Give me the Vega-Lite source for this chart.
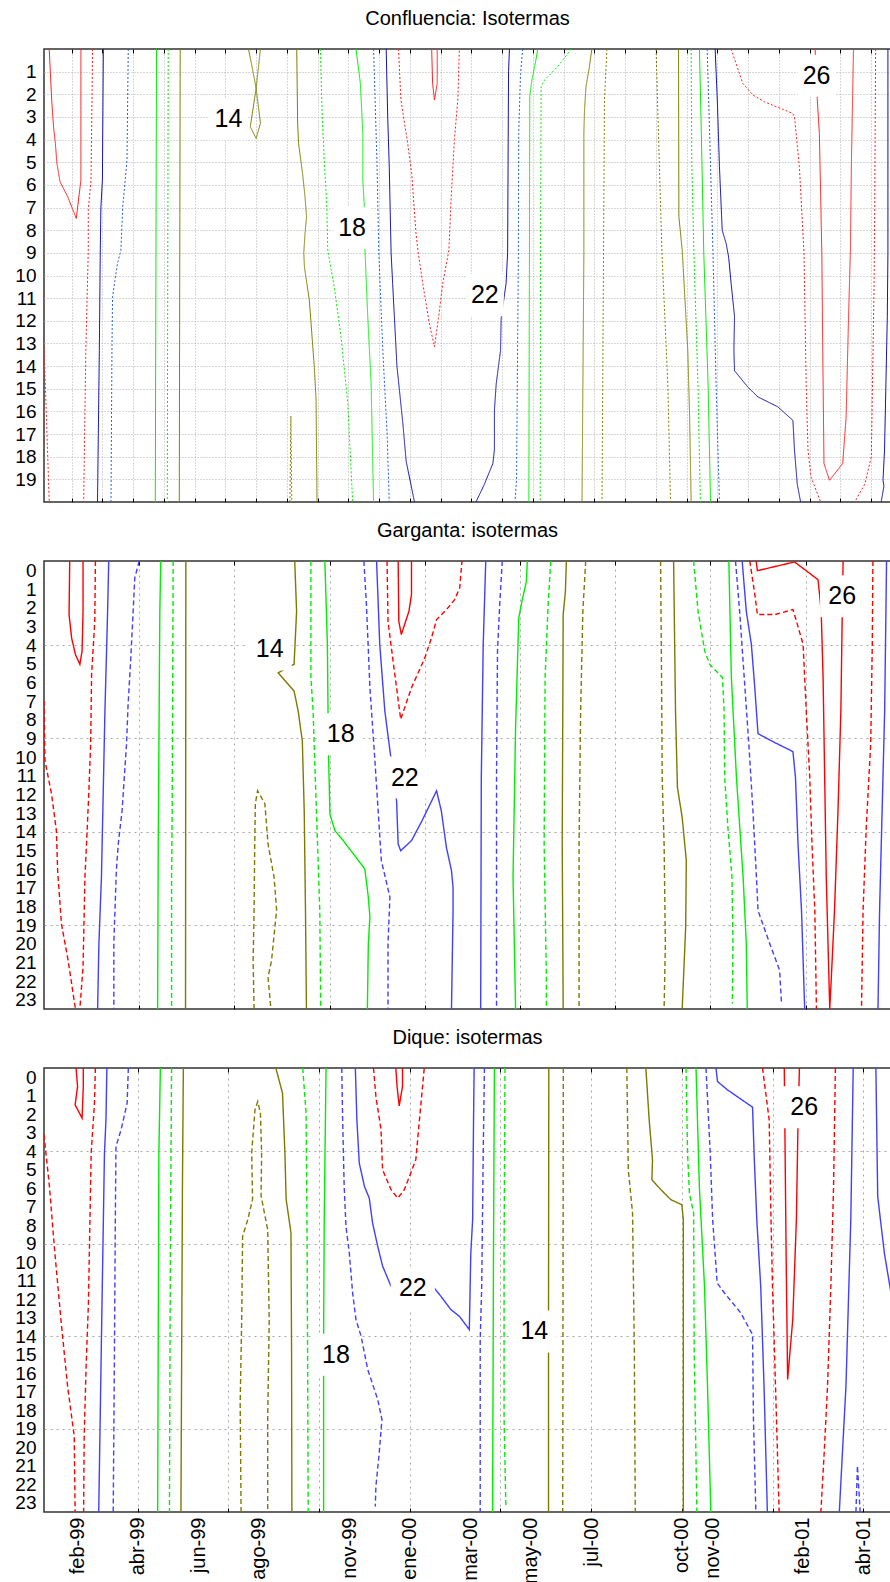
{
"$schema":"https://vega.github.io/schema/vega-lite/v6.json",
"background":"white",
"padding":{"left":13,"top":7,"right":0,"bottom":0},
"spacing":15,
"config":{
 "font":"Liberation Sans",
 "view":{"stroke":"#333333","strokeWidth":1.5},
 "axis":{"labelFont":"Liberation Sans","labelColor":"#000000","tickColor":"#000000","domain":false,"gridColor":"#b5b5b5","labelOverlap":false},
 "title":{"font":"Liberation Sans","fontSize":20,"fontWeight":"normal","color":"#000000","offset":20,"anchor":"middle"}
},
"resolve":{"scale":{"color":"independent","strokeDash":"independent"}},
"datasets":{
"a":[
{"g":1,"v":26,"k":0,"t":0.27,"d":0},{"g":1,"v":26,"k":1,"t":0.35,"d":2.25},{"g":1,"v":26,"k":2,"t":0.41,"d":3.43},{"g":1,"v":26,"k":3,"t":0.47,"d":4.17},{"g":1,"v":26,"k":4,"t":0.52,"d":5.05},{"g":1,"v":26,"k":5,"t":0.62,"d":5.86},{"g":1,"v":26,"k":6,"t":0.87,"d":6.52},{"g":1,"v":26,"k":7,"t":1.15,"d":7.48},{"g":1,"v":26,"k":8,"t":1.21,"d":6.8},{"g":1,"v":26,"k":9,"t":1.3,"d":5.79},{"g":1,"v":26,"k":10,"t":1.3,"d":0},
{"g":2,"v":24,"k":0,"t":1.68,"d":0},{"g":2,"v":24,"k":1,"t":1.63,"d":5.79},{"g":2,"v":24,"k":2,"t":1.54,"d":7.1},{"g":2,"v":24,"k":3,"t":1.54,"d":8.9},{"g":2,"v":24,"k":4,"t":1.46,"d":13.3},{"g":2,"v":24,"k":5,"t":1.39,"d":20},
{"g":3,"v":24,"k":0,"t":0.1,"d":13.15},{"g":3,"v":24,"k":1,"t":0.12,"d":13.9},{"g":3,"v":24,"k":2,"t":0.15,"d":15.07},{"g":3,"v":24,"k":3,"t":0.2,"d":17.13},{"g":3,"v":24,"k":4,"t":0.27,"d":20},
{"g":4,"v":22,"k":0,"t":2.03,"d":0},{"g":4,"v":22,"k":1,"t":2.0,"d":5.79},{"g":4,"v":22,"k":2,"t":1.95,"d":7},{"g":4,"v":22,"k":3,"t":1.93,"d":9},{"g":4,"v":22,"k":4,"t":1.9,"d":13.3},{"g":4,"v":22,"k":5,"t":1.84,"d":20},
{"g":5,"v":20,"k":0,"t":2.84,"d":0},{"g":5,"v":20,"k":1,"t":2.8,"d":4.9},{"g":5,"v":20,"k":2,"t":2.66,"d":6.97},{"g":5,"v":20,"k":3,"t":2.6,"d":8.9},{"g":5,"v":20,"k":4,"t":2.49,"d":9.47},{"g":5,"v":20,"k":5,"t":2.33,"d":10.94},{"g":5,"v":20,"k":6,"t":2.31,"d":13.3},{"g":5,"v":20,"k":7,"t":2.28,"d":20},
{"g":6,"v":18,"k":0,"t":3.76,"d":0},{"g":6,"v":18,"k":1,"t":3.72,"d":20},
{"g":7,"v":16,"k":0,"t":4.14,"d":0},{"g":7,"v":16,"k":1,"t":4.11,"d":20},
{"g":8,"v":14,"k":0,"t":4.53,"d":0},{"g":8,"v":14,"k":1,"t":4.5,"d":20},
{"g":9,"v":14,"k":0,"t":6.75,"d":0},{"g":9,"v":14,"k":1,"t":6.87,"d":0.8},{"g":9,"v":14,"k":2,"t":7.0,"d":1.74},{"g":9,"v":14,"k":3,"t":6.81,"d":3.43},{"g":9,"v":14,"k":4,"t":7.0,"d":3.95},{"g":9,"v":14,"k":5,"t":7.14,"d":3.28},{"g":9,"v":14,"k":6,"t":7.0,"d":1.74},{"g":9,"v":14,"k":7,"t":7.14,"d":0},
{"g":10,"v":14,"k":0,"t":8.32,"d":0},{"g":10,"v":14,"k":1,"t":8.35,"d":3.28},{"g":10,"v":14,"k":2,"t":8.38,"d":4.17},{"g":10,"v":14,"k":3,"t":8.51,"d":5.49},{"g":10,"v":14,"k":4,"t":8.59,"d":6.52},{"g":10,"v":14,"k":5,"t":8.64,"d":7.41},{"g":10,"v":14,"k":6,"t":8.59,"d":8.14},{"g":10,"v":14,"k":7,"t":8.55,"d":9},{"g":10,"v":14,"k":8,"t":8.57,"d":9.62},{"g":10,"v":14,"k":9,"t":8.73,"d":11.09},{"g":10,"v":14,"k":10,"t":8.89,"d":14},{"g":10,"v":14,"k":11,"t":8.95,"d":15.5},{"g":10,"v":14,"k":12,"t":8.98,"d":20},
{"g":11,"v":12,"k":0,"t":8.1,"d":20},{"g":11,"v":12,"k":1,"t":8.13,"d":16.2},{"g":11,"v":12,"k":2,"t":8.16,"d":20},
{"g":12,"v":16,"k":0,"t":9.09,"d":0},{"g":12,"v":16,"k":1,"t":9.15,"d":3},{"g":12,"v":16,"k":2,"t":9.22,"d":5},{"g":12,"v":16,"k":3,"t":9.3,"d":7},{"g":12,"v":16,"k":4,"t":9.33,"d":8.9},{"g":12,"v":16,"k":5,"t":9.54,"d":10.5},{"g":12,"v":16,"k":6,"t":9.76,"d":12.7},{"g":12,"v":16,"k":7,"t":9.98,"d":15.6},{"g":12,"v":16,"k":8,"t":10.14,"d":20},
{"g":13,"v":18,"k":0,"t":10.25,"d":0},{"g":13,"v":18,"k":1,"t":10.39,"d":1.52},{"g":13,"v":18,"k":2,"t":10.47,"d":3.73},{"g":13,"v":18,"k":3,"t":10.47,"d":5.79},{"g":13,"v":18,"k":4,"t":10.52,"d":6.97},{"g":13,"v":18,"k":5,"t":10.54,"d":8.88},{"g":13,"v":18,"k":6,"t":10.63,"d":11.8},{"g":13,"v":18,"k":7,"t":10.74,"d":14.77},{"g":13,"v":18,"k":8,"t":10.82,"d":20},
{"g":14,"v":20,"k":0,"t":10.82,"d":0},{"g":14,"v":20,"k":1,"t":10.93,"d":5},{"g":14,"v":20,"k":2,"t":10.99,"d":9},{"g":14,"v":20,"k":3,"t":11.12,"d":13.3},{"g":14,"v":20,"k":4,"t":11.26,"d":17},{"g":14,"v":20,"k":5,"t":11.33,"d":20},
{"g":15,"v":22,"k":0,"t":11.23,"d":0},{"g":15,"v":22,"k":1,"t":11.28,"d":3},{"g":15,"v":22,"k":2,"t":11.33,"d":5.2},{"g":15,"v":22,"k":3,"t":11.39,"d":9},{"g":15,"v":22,"k":4,"t":11.44,"d":10.35},{"g":15,"v":22,"k":5,"t":11.58,"d":14},{"g":15,"v":22,"k":6,"t":11.77,"d":16.5},{"g":15,"v":22,"k":7,"t":11.88,"d":18.2},{"g":15,"v":22,"k":8,"t":12.15,"d":20},
{"g":16,"v":24,"k":0,"t":11.63,"d":0},{"g":16,"v":24,"k":1,"t":11.71,"d":2.25},{"g":16,"v":24,"k":2,"t":11.93,"d":4.17},{"g":16,"v":24,"k":3,"t":12.06,"d":5.5},{"g":16,"v":24,"k":4,"t":12.2,"d":8.14},{"g":16,"v":24,"k":5,"t":12.26,"d":8.88},{"g":16,"v":24,"k":6,"t":12.42,"d":10.35},{"g":16,"v":24,"k":7,"t":12.63,"d":12.1},{"g":16,"v":24,"k":8,"t":12.8,"d":13.15},{"g":16,"v":24,"k":9,"t":12.93,"d":11.9},{"g":16,"v":24,"k":10,"t":13.07,"d":10.35},{"g":16,"v":24,"k":11,"t":13.27,"d":8.88},{"g":16,"v":24,"k":12,"t":13.34,"d":6.67},{"g":16,"v":24,"k":13,"t":13.45,"d":4.0},{"g":16,"v":24,"k":14,"t":13.56,"d":2.25},{"g":16,"v":24,"k":15,"t":13.61,"d":0},
{"g":17,"v":26,"k":0,"t":12.71,"d":0},{"g":17,"v":26,"k":1,"t":12.74,"d":1.52},{"g":17,"v":26,"k":2,"t":12.8,"d":2.25},{"g":17,"v":26,"k":3,"t":12.89,"d":1.52},{"g":17,"v":26,"k":4,"t":12.89,"d":0},
{"g":18,"v":22,"k":0,"t":15.24,"d":0},{"g":18,"v":22,"k":1,"t":15.21,"d":1},{"g":18,"v":22,"k":2,"t":15.18,"d":9},{"g":18,"v":22,"k":3,"t":15.13,"d":10.35},{"g":18,"v":22,"k":4,"t":14.97,"d":11.9},{"g":18,"v":22,"k":5,"t":14.95,"d":13.3},{"g":18,"v":22,"k":6,"t":14.81,"d":14.77},{"g":18,"v":22,"k":7,"t":14.75,"d":15.95},{"g":18,"v":22,"k":8,"t":14.75,"d":17.7},{"g":18,"v":22,"k":9,"t":14.7,"d":18.3},{"g":18,"v":22,"k":10,"t":14.43,"d":19.2},{"g":18,"v":22,"k":11,"t":14.15,"d":20},
{"g":19,"v":20,"k":0,"t":15.67,"d":0},{"g":19,"v":20,"k":1,"t":15.6,"d":1.08},{"g":19,"v":20,"k":2,"t":15.54,"d":3.73},{"g":19,"v":20,"k":3,"t":15.53,"d":9},{"g":19,"v":20,"k":4,"t":15.47,"d":19},{"g":19,"v":20,"k":5,"t":15.42,"d":20},
{"g":20,"v":18,"k":0,"t":16.16,"d":0},{"g":20,"v":18,"k":1,"t":16.1,"d":0.49},{"g":20,"v":18,"k":2,"t":15.97,"d":1.37},{"g":20,"v":18,"k":3,"t":15.9,"d":2.1},{"g":20,"v":18,"k":4,"t":15.89,"d":9},{"g":20,"v":18,"k":5,"t":15.87,"d":20},
{"g":21,"v":16,"k":0,"t":17.25,"d":0},{"g":21,"v":16,"k":1,"t":16.81,"d":0.78},{"g":21,"v":16,"k":2,"t":16.38,"d":1.37},{"g":21,"v":16,"k":3,"t":16.27,"d":1.66},{"g":21,"v":16,"k":4,"t":16.25,"d":9},{"g":21,"v":16,"k":5,"t":16.24,"d":20},
{"g":22,"v":14,"k":0,"t":17.92,"d":0},{"g":22,"v":14,"k":1,"t":17.84,"d":0.78},{"g":22,"v":14,"k":2,"t":17.73,"d":1.66},{"g":22,"v":14,"k":3,"t":17.68,"d":2.7},{"g":22,"v":14,"k":4,"t":17.66,"d":3.73},{"g":22,"v":14,"k":5,"t":17.66,"d":9},{"g":22,"v":14,"k":6,"t":17.6,"d":20},
{"g":23,"v":12,"k":0,"t":18.41,"d":0},{"g":23,"v":12,"k":1,"t":18.33,"d":2.25},{"g":23,"v":12,"k":2,"t":18.3,"d":9},{"g":23,"v":12,"k":3,"t":18.25,"d":20},
{"g":24,"v":12,"k":0,"t":20.01,"d":0},{"g":24,"v":12,"k":1,"t":20.07,"d":3},{"g":24,"v":12,"k":2,"t":20.2,"d":9},{"g":24,"v":12,"k":3,"t":20.39,"d":14.77},{"g":24,"v":12,"k":4,"t":20.48,"d":20},
{"g":25,"v":14,"k":0,"t":20.74,"d":0},{"g":25,"v":14,"k":1,"t":20.75,"d":7.4},{"g":25,"v":14,"k":2,"t":20.86,"d":8.9},{"g":25,"v":14,"k":3,"t":21.04,"d":13.3},{"g":25,"v":14,"k":4,"t":21.1,"d":16.25},{"g":25,"v":14,"k":5,"t":21.15,"d":20},
{"g":26,"v":16,"k":0,"t":21.15,"d":0},{"g":26,"v":16,"k":1,"t":21.17,"d":5},{"g":26,"v":16,"k":2,"t":21.24,"d":9},{"g":26,"v":16,"k":3,"t":21.37,"d":14.8},{"g":26,"v":16,"k":4,"t":21.45,"d":20},
{"g":27,"v":18,"k":0,"t":21.42,"d":0},{"g":27,"v":18,"k":1,"t":21.48,"d":3.7},{"g":27,"v":18,"k":2,"t":21.56,"d":9},{"g":27,"v":18,"k":3,"t":21.7,"d":14.77},{"g":27,"v":18,"k":4,"t":21.78,"d":20},
{"g":28,"v":20,"k":0,"t":21.67,"d":0},{"g":28,"v":20,"k":1,"t":21.75,"d":3.7},{"g":28,"v":20,"k":2,"t":21.86,"d":9},{"g":28,"v":20,"k":3,"t":21.96,"d":14.77},{"g":28,"v":20,"k":4,"t":22.07,"d":20},
{"g":29,"v":22,"k":0,"t":21.93,"d":0},{"g":29,"v":22,"k":1,"t":22.0,"d":2.25},{"g":29,"v":22,"k":2,"t":22.07,"d":5.2},{"g":29,"v":22,"k":3,"t":22.16,"d":8.0},{"g":29,"v":22,"k":4,"t":22.29,"d":8.6},{"g":29,"v":22,"k":5,"t":22.37,"d":9.2},{"g":29,"v":22,"k":6,"t":22.45,"d":10.35},{"g":29,"v":22,"k":7,"t":22.56,"d":11.8},{"g":29,"v":22,"k":8,"t":22.54,"d":13.3},{"g":29,"v":22,"k":9,"t":22.56,"d":14.2},{"g":29,"v":22,"k":10,"t":22.99,"d":14.92},{"g":29,"v":22,"k":11,"t":23.32,"d":15.36},{"g":29,"v":22,"k":12,"t":23.97,"d":15.8},{"g":29,"v":22,"k":13,"t":24.46,"d":16.4},{"g":29,"v":22,"k":14,"t":24.51,"d":17.7},{"g":29,"v":22,"k":15,"t":24.6,"d":19.2},{"g":29,"v":22,"k":16,"t":24.71,"d":20},
{"g":30,"v":24,"k":0,"t":22.45,"d":0},{"g":30,"v":24,"k":1,"t":22.83,"d":1.52},{"g":30,"v":24,"k":2,"t":23.16,"d":2.03},{"g":30,"v":24,"k":3,"t":23.53,"d":2.33},{"g":30,"v":24,"k":4,"t":24.45,"d":2.84},{"g":30,"v":24,"k":5,"t":24.51,"d":3.0},{"g":30,"v":24,"k":6,"t":24.67,"d":5.2},{"g":30,"v":24,"k":7,"t":24.82,"d":9},{"g":30,"v":24,"k":8,"t":24.89,"d":14.77},{"g":30,"v":24,"k":9,"t":24.95,"d":17.7},{"g":30,"v":24,"k":10,"t":25.05,"d":18.9},{"g":30,"v":24,"k":11,"t":25.36,"d":20},
{"g":31,"v":26,"k":0,"t":25.18,"d":0},{"g":31,"v":26,"k":1,"t":25.25,"d":2.18},{"g":31,"v":26,"k":2,"t":25.32,"d":3.73},{"g":31,"v":26,"k":3,"t":25.4,"d":9},{"g":31,"v":26,"k":4,"t":25.43,"d":13.3},{"g":31,"v":26,"k":5,"t":25.47,"d":18.3},{"g":31,"v":26,"k":6,"t":25.65,"d":19.04},{"g":31,"v":26,"k":7,"t":26.08,"d":18.3},{"g":31,"v":26,"k":8,"t":26.19,"d":16.25},{"g":31,"v":26,"k":9,"t":26.27,"d":11.8},{"g":31,"v":26,"k":10,"t":26.33,"d":8.88},{"g":31,"v":26,"k":11,"t":26.36,"d":5.2},{"g":31,"v":26,"k":12,"t":26.43,"d":0},
{"g":32,"v":24,"k":0,"t":27.15,"d":0},{"g":32,"v":24,"k":1,"t":27.12,"d":7},{"g":32,"v":24,"k":2,"t":27.1,"d":10.35},{"g":32,"v":24,"k":3,"t":27.01,"d":18.0},{"g":32,"v":24,"k":4,"t":26.8,"d":19.2},{"g":32,"v":24,"k":5,"t":26.47,"d":20},
{"g":33,"v":22,"k":0,"t":27.55,"d":0},{"g":33,"v":22,"k":1,"t":27.55,"d":9},{"g":33,"v":22,"k":2,"t":27.53,"d":11.8},{"g":33,"v":22,"k":3,"t":27.44,"d":17.7},{"g":33,"v":22,"k":4,"t":27.39,"d":19.04},{"g":33,"v":22,"k":5,"t":27.42,"d":19.3},{"g":33,"v":22,"k":6,"t":27.33,"d":20}
],
"b":[
{"g":1,"v":26,"k":0,"t":0.81,"d":-0.5},{"g":1,"v":26,"k":1,"t":0.79,"d":2.37},{"g":1,"v":26,"k":2,"t":0.87,"d":3.62},{"g":1,"v":26,"k":3,"t":0.99,"d":4.51},{"g":1,"v":26,"k":4,"t":1.13,"d":5.04},{"g":1,"v":26,"k":5,"t":1.2,"d":4.33},{"g":1,"v":26,"k":6,"t":1.23,"d":2.19},{"g":1,"v":26,"k":7,"t":1.23,"d":-0.5},
{"g":2,"v":24,"k":0,"t":0,"d":7.0},{"g":2,"v":24,"k":1,"t":0.03,"d":10.2},{"g":2,"v":24,"k":2,"t":0.24,"d":12},{"g":2,"v":24,"k":3,"t":0.39,"d":13.95},{"g":2,"v":24,"k":4,"t":0.43,"d":16.1},{"g":2,"v":24,"k":5,"t":0.55,"d":18.94},{"g":2,"v":24,"k":6,"t":0.76,"d":20.9},{"g":2,"v":24,"k":7,"t":0.99,"d":23.5},
{"g":3,"v":24,"k":0,"t":1.62,"d":-0.5},{"g":3,"v":24,"k":1,"t":1.6,"d":2.73},{"g":3,"v":24,"k":2,"t":1.5,"d":5.58},{"g":3,"v":24,"k":3,"t":1.47,"d":9.32},{"g":3,"v":24,"k":4,"t":1.41,"d":12},{"g":3,"v":24,"k":5,"t":1.34,"d":14.66},{"g":3,"v":24,"k":6,"t":1.29,"d":16.44},{"g":3,"v":24,"k":7,"t":1.23,"d":21.25},{"g":3,"v":24,"k":8,"t":1.13,"d":23.5},
{"g":4,"v":22,"k":0,"t":2.04,"d":-0.5},{"g":4,"v":22,"k":1,"t":2.0,"d":2.5},{"g":4,"v":22,"k":2,"t":1.92,"d":7.54},{"g":4,"v":22,"k":3,"t":1.81,"d":16.44},{"g":4,"v":22,"k":4,"t":1.73,"d":20},{"g":4,"v":22,"k":5,"t":1.69,"d":23.5},
{"g":5,"v":20,"k":0,"t":3.0,"d":-0.5},{"g":5,"v":20,"k":1,"t":2.86,"d":0.41},{"g":5,"v":20,"k":2,"t":2.81,"d":2.19},{"g":5,"v":20,"k":3,"t":2.73,"d":4.86},{"g":5,"v":20,"k":4,"t":2.65,"d":7.18},{"g":5,"v":20,"k":5,"t":2.6,"d":9.32},{"g":5,"v":20,"k":6,"t":2.46,"d":12.88},{"g":5,"v":20,"k":7,"t":2.34,"d":14.66},{"g":5,"v":20,"k":8,"t":2.28,"d":16.09},{"g":5,"v":20,"k":9,"t":2.2,"d":20},{"g":5,"v":20,"k":10,"t":2.2,"d":23.5},
{"g":6,"v":18,"k":0,"t":3.68,"d":-0.5},{"g":6,"v":18,"k":1,"t":3.65,"d":2.19},{"g":6,"v":18,"k":2,"t":3.6,"d":14.66},{"g":6,"v":18,"k":3,"t":3.58,"d":23.5},
{"g":7,"v":16,"k":0,"t":4.07,"d":-0.5},{"g":7,"v":16,"k":1,"t":4.04,"d":12.88},{"g":7,"v":16,"k":2,"t":4.02,"d":16.44},{"g":7,"v":16,"k":3,"t":4.02,"d":23.5},
{"g":8,"v":14,"k":0,"t":4.47,"d":-0.5},{"g":8,"v":14,"k":1,"t":4.46,"d":23.5},
{"g":9,"v":12,"k":0,"t":6.62,"d":23.5},{"g":9,"v":12,"k":1,"t":6.59,"d":20.9},{"g":9,"v":12,"k":2,"t":6.62,"d":18.2},{"g":9,"v":12,"k":3,"t":6.64,"d":14.66},{"g":9,"v":12,"k":4,"t":6.66,"d":12.5},{"g":9,"v":12,"k":5,"t":6.73,"d":11.81},{"g":9,"v":12,"k":6,"t":6.96,"d":12.5},{"g":9,"v":12,"k":7,"t":7.06,"d":14.66},{"g":9,"v":12,"k":8,"t":7.25,"d":16.44},{"g":9,"v":12,"k":9,"t":7.33,"d":18.2},{"g":9,"v":12,"k":10,"t":7.17,"d":20.9},{"g":9,"v":12,"k":11,"t":7.06,"d":21.8},{"g":9,"v":12,"k":12,"t":7.15,"d":23.5},
{"g":10,"v":14,"k":0,"t":7.9,"d":-0.5},{"g":10,"v":14,"k":1,"t":7.96,"d":2.19},{"g":10,"v":14,"k":2,"t":7.9,"d":4.33},{"g":10,"v":14,"k":3,"t":7.88,"d":5.04},{"g":10,"v":14,"k":4,"t":7.75,"d":5.13},{"g":10,"v":14,"k":5,"t":7.38,"d":5.49},{"g":10,"v":14,"k":6,"t":7.88,"d":6.47},{"g":10,"v":14,"k":7,"t":8.01,"d":7.54},{"g":10,"v":14,"k":8,"t":8.14,"d":9.14},{"g":10,"v":14,"k":9,"t":8.2,"d":12.88},{"g":10,"v":14,"k":10,"t":8.24,"d":18.23},{"g":10,"v":14,"k":11,"t":8.27,"d":23.5},
{"g":11,"v":16,"k":0,"t":8.41,"d":-0.5},{"g":11,"v":16,"k":1,"t":8.41,"d":5.75},{"g":11,"v":16,"k":2,"t":8.48,"d":7.54},{"g":11,"v":16,"k":3,"t":8.53,"d":10.2},{"g":11,"v":16,"k":4,"t":8.62,"d":14.66},{"g":11,"v":16,"k":5,"t":8.69,"d":18.23},{"g":11,"v":16,"k":6,"t":8.72,"d":23.5},
{"g":12,"v":18,"k":0,"t":8.85,"d":-0.5},{"g":12,"v":18,"k":1,"t":8.93,"d":3.97},{"g":12,"v":18,"k":2,"t":8.95,"d":7.54},{"g":12,"v":18,"k":3,"t":8.97,"d":10.2},{"g":12,"v":18,"k":4,"t":9.01,"d":13.06},{"g":12,"v":18,"k":5,"t":9.17,"d":13.95},{"g":12,"v":18,"k":6,"t":9.43,"d":14.48},{"g":12,"v":18,"k":7,"t":10.11,"d":16.0},{"g":12,"v":18,"k":8,"t":10.22,"d":17.51},{"g":12,"v":18,"k":9,"t":10.27,"d":18.58},{"g":12,"v":18,"k":10,"t":10.22,"d":20},{"g":12,"v":18,"k":11,"t":10.19,"d":23.5},
{"g":13,"v":20,"k":0,"t":10.08,"d":-0.5},{"g":13,"v":20,"k":1,"t":10.16,"d":1.83},{"g":13,"v":20,"k":2,"t":10.27,"d":6.29},{"g":13,"v":20,"k":3,"t":10.42,"d":10.0},{"g":13,"v":20,"k":4,"t":10.53,"d":12.88},{"g":13,"v":20,"k":5,"t":10.63,"d":15.55},{"g":13,"v":20,"k":6,"t":10.9,"d":17.51},{"g":13,"v":20,"k":7,"t":10.84,"d":20},{"g":13,"v":20,"k":8,"t":10.84,"d":23.5},
{"g":14,"v":22,"k":0,"t":10.48,"d":-0.5},{"g":14,"v":22,"k":1,"t":10.58,"d":3.97},{"g":14,"v":22,"k":2,"t":10.74,"d":7.54},{"g":14,"v":22,"k":3,"t":10.93,"d":10.03},{"g":14,"v":22,"k":4,"t":11.11,"d":12.35},{"g":14,"v":22,"k":5,"t":11.16,"d":14.66},{"g":14,"v":22,"k":6,"t":11.24,"d":15.02},{"g":14,"v":22,"k":7,"t":11.58,"d":14.48},{"g":14,"v":22,"k":8,"t":11.91,"d":13.42},{"g":14,"v":22,"k":9,"t":12.37,"d":11.81},{"g":14,"v":22,"k":10,"t":12.52,"d":12.88},{"g":14,"v":22,"k":11,"t":12.68,"d":14.84},{"g":14,"v":22,"k":12,"t":12.84,"d":16.09},{"g":14,"v":22,"k":13,"t":12.89,"d":17.0},{"g":14,"v":22,"k":14,"t":12.89,"d":18.23},{"g":14,"v":22,"k":15,"t":12.84,"d":23.5},
{"g":15,"v":24,"k":0,"t":10.81,"d":-0.5},{"g":15,"v":24,"k":1,"t":10.84,"d":2.73},{"g":15,"v":24,"k":2,"t":11.0,"d":4.86},{"g":15,"v":24,"k":3,"t":11.11,"d":6.29},{"g":15,"v":24,"k":4,"t":11.24,"d":7.98},{"g":15,"v":24,"k":5,"t":11.58,"d":6.29},{"g":15,"v":24,"k":6,"t":12.0,"d":4.69},{"g":15,"v":24,"k":7,"t":12.21,"d":3.62},{"g":15,"v":24,"k":8,"t":12.37,"d":2.64},{"g":15,"v":24,"k":9,"t":12.73,"d":2.01},{"g":15,"v":24,"k":10,"t":12.94,"d":1.57},{"g":15,"v":24,"k":11,"t":13.1,"d":0.94},{"g":15,"v":24,"k":12,"t":13.17,"d":-0.5},
{"g":16,"v":26,"k":0,"t":11.16,"d":-0.5},{"g":16,"v":26,"k":1,"t":11.18,"d":2.73},{"g":16,"v":26,"k":2,"t":11.26,"d":3.44},{"g":16,"v":26,"k":3,"t":11.5,"d":2.19},{"g":16,"v":26,"k":4,"t":11.58,"d":1.3},{"g":16,"v":26,"k":5,"t":11.58,"d":-0.5},
{"g":17,"v":22,"k":0,"t":13.92,"d":-0.5},{"g":17,"v":22,"k":1,"t":13.84,"d":3.97},{"g":17,"v":22,"k":2,"t":13.78,"d":11.1},{"g":17,"v":22,"k":3,"t":13.76,"d":23.5},
{"g":18,"v":20,"k":0,"t":14.44,"d":-0.5},{"g":18,"v":20,"k":1,"t":14.36,"d":1.83},{"g":18,"v":20,"k":2,"t":14.29,"d":4.33},{"g":18,"v":20,"k":3,"t":14.26,"d":11.1},{"g":18,"v":20,"k":4,"t":14.26,"d":23.5},
{"g":19,"v":18,"k":0,"t":15.23,"d":-0.5},{"g":19,"v":18,"k":1,"t":15.2,"d":0.59},{"g":19,"v":18,"k":2,"t":15.06,"d":1.66},{"g":19,"v":18,"k":3,"t":14.96,"d":2.55},{"g":19,"v":18,"k":4,"t":14.86,"d":8.43},{"g":19,"v":18,"k":5,"t":14.78,"d":16.44},{"g":19,"v":18,"k":6,"t":14.86,"d":23.5},
{"g":20,"v":16,"k":0,"t":15.97,"d":-0.5},{"g":20,"v":16,"k":1,"t":15.89,"d":1.66},{"g":20,"v":16,"k":2,"t":15.79,"d":5.75},{"g":20,"v":16,"k":3,"t":15.76,"d":14.66},{"g":20,"v":16,"k":4,"t":15.83,"d":21.8},{"g":20,"v":16,"k":5,"t":15.83,"d":23.5},
{"g":21,"v":14,"k":0,"t":16.46,"d":-0.5},{"g":21,"v":14,"k":1,"t":16.43,"d":1.13},{"g":21,"v":14,"k":2,"t":16.36,"d":2.37},{"g":21,"v":14,"k":3,"t":16.33,"d":14.66},{"g":21,"v":14,"k":4,"t":16.36,"d":23.5},
{"g":22,"v":12,"k":0,"t":17.07,"d":-0.5},{"g":22,"v":12,"k":1,"t":16.98,"d":2.19},{"g":22,"v":12,"k":2,"t":16.91,"d":7.54},{"g":22,"v":12,"k":3,"t":16.86,"d":14.66},{"g":22,"v":12,"k":4,"t":16.86,"d":23.5},
{"g":23,"v":12,"k":0,"t":19.43,"d":-0.5},{"g":23,"v":12,"k":1,"t":19.46,"d":5.75},{"g":23,"v":12,"k":2,"t":19.48,"d":11.1},{"g":23,"v":12,"k":3,"t":19.54,"d":14.66},{"g":23,"v":12,"k":4,"t":19.58,"d":20},{"g":23,"v":12,"k":5,"t":19.54,"d":23.5},
{"g":24,"v":14,"k":0,"t":19.84,"d":-0.5},{"g":24,"v":14,"k":1,"t":19.9,"d":7.54},{"g":24,"v":14,"k":2,"t":19.96,"d":11.63},{"g":24,"v":14,"k":3,"t":20.11,"d":13.24},{"g":24,"v":14,"k":4,"t":20.24,"d":15.55},{"g":24,"v":14,"k":5,"t":20.22,"d":19.12},{"g":24,"v":14,"k":6,"t":20.11,"d":23.5},
{"g":25,"v":16,"k":0,"t":20.47,"d":-0.5},{"g":25,"v":16,"k":1,"t":20.61,"d":2.19},{"g":25,"v":16,"k":2,"t":20.82,"d":4.33},{"g":25,"v":16,"k":3,"t":20.98,"d":5.04},{"g":25,"v":16,"k":4,"t":21.38,"d":5.75},{"g":25,"v":16,"k":5,"t":21.43,"d":7.54},{"g":25,"v":16,"k":6,"t":21.45,"d":11.1},{"g":25,"v":16,"k":7,"t":21.55,"d":13.77},{"g":25,"v":16,"k":8,"t":21.68,"d":16.44},{"g":25,"v":16,"k":9,"t":21.71,"d":20},{"g":25,"v":16,"k":10,"t":21.69,"d":23.2},
{"g":26,"v":18,"k":0,"t":21.58,"d":-0.5},{"g":26,"v":18,"k":1,"t":21.66,"d":5.75},{"g":26,"v":18,"k":2,"t":21.82,"d":11.1},{"g":26,"v":18,"k":3,"t":22.03,"d":16.44},{"g":26,"v":18,"k":4,"t":22.13,"d":20},{"g":26,"v":18,"k":5,"t":22.16,"d":23.5},
{"g":27,"v":20,"k":0,"t":21.79,"d":-0.5},{"g":27,"v":20,"k":1,"t":21.92,"d":2.19},{"g":27,"v":20,"k":2,"t":22.08,"d":6.11},{"g":27,"v":20,"k":3,"t":22.21,"d":9.32},{"g":27,"v":20,"k":4,"t":22.34,"d":12.88},{"g":27,"v":20,"k":5,"t":22.45,"d":16.44},{"g":27,"v":20,"k":6,"t":22.5,"d":18.23},{"g":27,"v":20,"k":7,"t":22.87,"d":20},{"g":27,"v":20,"k":8,"t":23.18,"d":21.43},{"g":27,"v":20,"k":9,"t":23.24,"d":23.2},
{"g":28,"v":22,"k":0,"t":22.0,"d":-0.5},{"g":28,"v":22,"k":1,"t":22.13,"d":2.19},{"g":28,"v":22,"k":2,"t":22.29,"d":3.97},{"g":28,"v":22,"k":3,"t":22.39,"d":6.11},{"g":28,"v":22,"k":4,"t":22.5,"d":8.75},{"g":28,"v":22,"k":5,"t":23.03,"d":9.23},{"g":28,"v":22,"k":6,"t":23.6,"d":9.71},{"g":28,"v":22,"k":7,"t":23.68,"d":11.1},{"g":28,"v":22,"k":8,"t":23.76,"d":14.66},{"g":28,"v":22,"k":9,"t":23.87,"d":18.23},{"g":28,"v":22,"k":10,"t":23.97,"d":23.5},
{"g":29,"v":24,"k":0,"t":22.24,"d":-0.5},{"g":29,"v":24,"k":1,"t":22.4,"d":1.3},{"g":29,"v":24,"k":2,"t":22.48,"d":2.37},{"g":29,"v":24,"k":3,"t":23.03,"d":2.37},{"g":29,"v":24,"k":4,"t":23.6,"d":2.1},{"g":29,"v":24,"k":5,"t":23.68,"d":2.55},{"g":29,"v":24,"k":6,"t":23.92,"d":3.97},{"g":29,"v":24,"k":7,"t":24.02,"d":7.54},{"g":29,"v":24,"k":8,"t":24.13,"d":11.1},{"g":29,"v":24,"k":9,"t":24.2,"d":14.66},{"g":29,"v":24,"k":10,"t":24.29,"d":18.23},{"g":29,"v":24,"k":11,"t":24.34,"d":23.5},
{"g":30,"v":26,"k":0,"t":22.44,"d":-0.5},{"g":30,"v":26,"k":1,"t":22.48,"d":0.02},{"g":30,"v":26,"k":2,"t":23.65,"d":-0.45},{"g":30,"v":26,"k":3,"t":24.39,"d":0.5},{"g":30,"v":26,"k":4,"t":24.44,"d":1.3},{"g":30,"v":26,"k":5,"t":24.49,"d":2.19},{"g":30,"v":26,"k":6,"t":24.55,"d":5.75},{"g":30,"v":26,"k":7,"t":24.6,"d":11.1},{"g":30,"v":26,"k":8,"t":24.65,"d":16.44},{"g":30,"v":26,"k":9,"t":24.76,"d":23.5},{"g":30,"v":26,"k":10,"t":24.81,"d":21.8},{"g":30,"v":26,"k":11,"t":24.91,"d":18.23},{"g":30,"v":26,"k":12,"t":25.02,"d":12.88},{"g":30,"v":26,"k":13,"t":25.11,"d":7.54},{"g":30,"v":26,"k":14,"t":25.15,"d":2.73},{"g":30,"v":26,"k":15,"t":25.18,"d":-0.5},
{"g":31,"v":24,"k":0,"t":26.12,"d":-0.5},{"g":31,"v":24,"k":1,"t":26.1,"d":3.97},{"g":31,"v":24,"k":2,"t":26.05,"d":9.32},{"g":31,"v":24,"k":3,"t":25.91,"d":13.77},{"g":31,"v":24,"k":4,"t":25.81,"d":18.23},{"g":31,"v":24,"k":5,"t":25.76,"d":23.5},
{"g":32,"v":22,"k":0,"t":26.55,"d":-0.5},{"g":32,"v":22,"k":1,"t":26.49,"d":7.54},{"g":32,"v":22,"k":2,"t":26.33,"d":18.23},{"g":32,"v":22,"k":3,"t":26.28,"d":23.5},
{"g":33,"v":20,"k":0,"t":26.72,"d":17.5},{"g":33,"v":20,"k":1,"t":26.68,"d":19.5}
],
"c":[
{"g":1,"v":26,"k":0,"t":0.96,"d":-0.5},{"g":1,"v":26,"k":1,"t":1.01,"d":0.5},{"g":1,"v":26,"k":2,"t":0.93,"d":1.49},{"g":1,"v":26,"k":3,"t":1.16,"d":2.21},{"g":1,"v":26,"k":4,"t":1.2,"d":0.5},{"g":1,"v":26,"k":5,"t":1.2,"d":-0.5},
{"g":2,"v":24,"k":0,"t":-0.1,"d":3.11},{"g":2,"v":24,"k":1,"t":0.08,"d":5.9},{"g":2,"v":24,"k":2,"t":0.24,"d":9.14},{"g":2,"v":24,"k":3,"t":0.46,"d":13.1},{"g":2,"v":24,"k":4,"t":0.68,"d":16.7},{"g":2,"v":24,"k":5,"t":0.9,"d":19.4},{"g":2,"v":24,"k":6,"t":0.93,"d":23.5},
{"g":3,"v":24,"k":0,"t":1.6,"d":-0.5},{"g":3,"v":24,"k":1,"t":1.57,"d":1.4},{"g":3,"v":24,"k":2,"t":1.46,"d":4.1},{"g":3,"v":24,"k":3,"t":1.4,"d":9.5},{"g":3,"v":24,"k":4,"t":1.37,"d":12.2},{"g":3,"v":24,"k":5,"t":1.29,"d":15.8},{"g":3,"v":24,"k":6,"t":1.23,"d":19.4},{"g":3,"v":24,"k":7,"t":1.21,"d":23.5},
{"g":4,"v":22,"k":0,"t":1.98,"d":-0.5},{"g":4,"v":22,"k":1,"t":1.95,"d":2.3},{"g":4,"v":22,"k":2,"t":1.9,"d":4.1},{"g":4,"v":22,"k":3,"t":1.81,"d":13.1},{"g":4,"v":22,"k":4,"t":1.71,"d":23.5},
{"g":5,"v":20,"k":0,"t":2.69,"d":-0.5},{"g":5,"v":20,"k":1,"t":2.65,"d":1.4},{"g":5,"v":20,"k":2,"t":2.45,"d":2.84},{"g":5,"v":20,"k":3,"t":2.28,"d":3.74},{"g":5,"v":20,"k":4,"t":2.26,"d":7.7},{"g":5,"v":20,"k":5,"t":2.23,"d":14.9},{"g":5,"v":20,"k":6,"t":2.19,"d":23.5},
{"g":6,"v":18,"k":0,"t":3.75,"d":-0.5},{"g":6,"v":18,"k":1,"t":3.7,"d":4.1},{"g":6,"v":18,"k":2,"t":3.66,"d":23.5},
{"g":7,"v":16,"k":0,"t":4.12,"d":-0.5},{"g":7,"v":16,"k":1,"t":4.08,"d":9.5},{"g":7,"v":16,"k":2,"t":4.05,"d":23.5},
{"g":8,"v":14,"k":0,"t":4.51,"d":-0.5},{"g":8,"v":14,"k":1,"t":4.48,"d":5.9},{"g":8,"v":14,"k":2,"t":4.43,"d":23.5},
{"g":9,"v":12,"k":0,"t":6.42,"d":23.5},{"g":9,"v":12,"k":1,"t":6.39,"d":17.6},{"g":9,"v":12,"k":2,"t":6.44,"d":13.1},{"g":9,"v":12,"k":3,"t":6.47,"d":8.6},{"g":9,"v":12,"k":4,"t":6.64,"d":7.7},{"g":9,"v":12,"k":5,"t":6.8,"d":6.6},{"g":9,"v":12,"k":6,"t":6.77,"d":4.1},{"g":9,"v":12,"k":7,"t":6.88,"d":1.76},{"g":9,"v":12,"k":8,"t":6.97,"d":1.31},{"g":9,"v":12,"k":9,"t":7.06,"d":1.94},{"g":9,"v":12,"k":10,"t":7.1,"d":4.1},{"g":9,"v":12,"k":11,"t":7.08,"d":6.4},{"g":9,"v":12,"k":12,"t":7.3,"d":8.24},{"g":9,"v":12,"k":13,"t":7.35,"d":13.1},{"g":9,"v":12,"k":14,"t":7.3,"d":18.5},{"g":9,"v":12,"k":15,"t":7.3,"d":23.5},
{"g":10,"v":14,"k":0,"t":7.57,"d":-0.5},{"g":10,"v":14,"k":1,"t":7.79,"d":0.86},{"g":10,"v":14,"k":2,"t":7.87,"d":4.1},{"g":10,"v":14,"k":3,"t":7.91,"d":6.6},{"g":10,"v":14,"k":4,"t":8.07,"d":8.4},{"g":10,"v":14,"k":5,"t":8.09,"d":14.9},{"g":10,"v":14,"k":6,"t":8.1,"d":23.5},
{"g":11,"v":16,"k":0,"t":8.46,"d":-0.5},{"g":11,"v":16,"k":1,"t":8.57,"d":1.94},{"g":11,"v":16,"k":2,"t":8.6,"d":7.7},{"g":11,"v":16,"k":3,"t":8.62,"d":14.9},{"g":11,"v":16,"k":4,"t":8.64,"d":23.5},
{"g":12,"v":18,"k":0,"t":9.23,"d":-0.5},{"g":12,"v":18,"k":1,"t":9.17,"d":7.7},{"g":12,"v":18,"k":2,"t":9.15,"d":14.0},{"g":12,"v":18,"k":3,"t":9.15,"d":23.5},
{"g":13,"v":20,"k":0,"t":9.75,"d":-0.5},{"g":13,"v":20,"k":1,"t":9.78,"d":2.3},{"g":13,"v":20,"k":2,"t":9.83,"d":5.9},{"g":13,"v":20,"k":3,"t":9.89,"d":8.06},{"g":13,"v":20,"k":4,"t":10.0,"d":9.5},{"g":13,"v":20,"k":5,"t":10.11,"d":11.66},{"g":13,"v":20,"k":6,"t":10.22,"d":13.1},{"g":13,"v":20,"k":7,"t":10.39,"d":14.0},{"g":13,"v":20,"k":8,"t":10.61,"d":15.8},{"g":13,"v":20,"k":9,"t":10.94,"d":17.42},{"g":13,"v":20,"k":10,"t":11.08,"d":18.5},{"g":13,"v":20,"k":11,"t":10.99,"d":20.3},{"g":13,"v":20,"k":12,"t":10.88,"d":22.1},{"g":13,"v":20,"k":13,"t":10.86,"d":23.2},
{"g":14,"v":22,"k":0,"t":10.2,"d":-0.5},{"g":14,"v":22,"k":1,"t":10.25,"d":2.3},{"g":14,"v":22,"k":2,"t":10.33,"d":4.64},{"g":14,"v":22,"k":3,"t":10.5,"d":5.9},{"g":14,"v":22,"k":4,"t":10.66,"d":6.53},{"g":14,"v":22,"k":5,"t":10.77,"d":7.88},{"g":14,"v":22,"k":6,"t":10.94,"d":9.14},{"g":14,"v":22,"k":7,"t":11.1,"d":10.2},{"g":14,"v":22,"k":8,"t":11.38,"d":11.3},{"g":14,"v":22,"k":9,"t":12.81,"d":11.39},{"g":14,"v":22,"k":10,"t":13.03,"d":11.84},{"g":14,"v":22,"k":11,"t":13.36,"d":12.56},{"g":14,"v":22,"k":12,"t":13.64,"d":12.92},{"g":14,"v":22,"k":13,"t":13.97,"d":13.64},{"g":14,"v":22,"k":14,"t":14.02,"d":9.5},{"g":14,"v":22,"k":15,"t":14.08,"d":7.7},{"g":14,"v":22,"k":16,"t":14.11,"d":2.3},{"g":14,"v":22,"k":17,"t":14.13,"d":-0.5},
{"g":15,"v":24,"k":0,"t":10.8,"d":-0.5},{"g":15,"v":24,"k":1,"t":10.88,"d":1.04},{"g":15,"v":24,"k":2,"t":11.05,"d":2.84},{"g":15,"v":24,"k":3,"t":11.1,"d":5.0},{"g":15,"v":24,"k":4,"t":11.38,"d":6.08},{"g":15,"v":24,"k":5,"t":11.6,"d":6.53},{"g":15,"v":24,"k":6,"t":11.82,"d":6.08},{"g":15,"v":24,"k":7,"t":12.2,"d":4.46},{"g":15,"v":24,"k":8,"t":12.32,"d":2.3},{"g":15,"v":24,"k":9,"t":12.48,"d":-0.5},
{"g":16,"v":26,"k":0,"t":11.54,"d":-0.5},{"g":16,"v":26,"k":1,"t":11.58,"d":0.5},{"g":16,"v":26,"k":2,"t":11.65,"d":1.55},{"g":16,"v":26,"k":3,"t":11.76,"d":0.5},{"g":16,"v":26,"k":4,"t":11.76,"d":-0.5},
{"g":17,"v":20,"k":0,"t":14.47,"d":-0.5},{"g":17,"v":20,"k":1,"t":14.43,"d":4.1},{"g":17,"v":20,"k":2,"t":14.38,"d":11.3},{"g":17,"v":20,"k":3,"t":14.33,"d":14.2},{"g":17,"v":20,"k":4,"t":14.33,"d":23.5},
{"g":18,"v":18,"k":0,"t":14.8,"d":-0.5},{"g":18,"v":18,"k":1,"t":14.77,"d":9.5},{"g":18,"v":18,"k":2,"t":14.74,"d":23.5},
{"g":19,"v":16,"k":0,"t":15.15,"d":-0.5},{"g":19,"v":16,"k":1,"t":15.12,"d":9.5},{"g":19,"v":16,"k":2,"t":15.12,"d":18.5},{"g":19,"v":16,"k":3,"t":15.18,"d":23.2},
{"g":20,"v":14,"k":0,"t":16.6,"d":-0.5},{"g":20,"v":14,"k":1,"t":16.59,"d":13},{"g":20,"v":14,"k":2,"t":16.59,"d":23.5},
{"g":21,"v":12,"k":0,"t":17.08,"d":-0.5},{"g":21,"v":12,"k":1,"t":17.06,"d":23.5},
{"g":22,"v":12,"k":0,"t":19.18,"d":-0.5},{"g":22,"v":12,"k":1,"t":19.23,"d":5.0},{"g":22,"v":12,"k":2,"t":19.37,"d":7.34},{"g":22,"v":12,"k":3,"t":19.43,"d":14.9},{"g":22,"v":12,"k":4,"t":19.46,"d":23.5},
{"g":23,"v":14,"k":0,"t":19.81,"d":-0.5},{"g":23,"v":14,"k":1,"t":19.92,"d":2.3},{"g":23,"v":14,"k":2,"t":20.03,"d":4.46},{"g":23,"v":14,"k":3,"t":20.01,"d":5.54},{"g":23,"v":14,"k":4,"t":20.31,"d":6.08},{"g":23,"v":14,"k":5,"t":20.64,"d":6.62},{"g":23,"v":14,"k":6,"t":21.0,"d":6.89},{"g":23,"v":14,"k":7,"t":21.05,"d":7.7},{"g":23,"v":14,"k":8,"t":21.05,"d":23.5},
{"g":24,"v":16,"k":0,"t":21.14,"d":-0.5},{"g":24,"v":16,"k":1,"t":21.19,"d":4.1},{"g":24,"v":16,"k":2,"t":21.25,"d":6.26},{"g":24,"v":16,"k":3,"t":21.39,"d":7.34},{"g":24,"v":16,"k":4,"t":21.41,"d":14.9},{"g":24,"v":16,"k":5,"t":21.5,"d":23.5},
{"g":25,"v":18,"k":0,"t":21.47,"d":-0.5},{"g":25,"v":18,"k":1,"t":21.58,"d":5.9},{"g":25,"v":18,"k":2,"t":21.75,"d":11.3},{"g":25,"v":18,"k":3,"t":21.85,"d":16.7},{"g":25,"v":18,"k":4,"t":21.96,"d":23.5},
{"g":26,"v":20,"k":0,"t":21.8,"d":-0.5},{"g":26,"v":20,"k":1,"t":21.94,"d":4.1},{"g":26,"v":20,"k":2,"t":22.02,"d":7.7},{"g":26,"v":20,"k":3,"t":22.17,"d":11.12},{"g":26,"v":20,"k":4,"t":22.41,"d":11.66},{"g":26,"v":20,"k":5,"t":22.95,"d":12.74},{"g":26,"v":20,"k":6,"t":23.34,"d":13.91},{"g":26,"v":20,"k":7,"t":23.37,"d":18.5},{"g":26,"v":20,"k":8,"t":23.45,"d":23.5},
{"g":27,"v":22,"k":0,"t":22.13,"d":-0.5},{"g":27,"v":22,"k":1,"t":22.18,"d":0.23},{"g":27,"v":22,"k":2,"t":22.51,"d":0.68},{"g":27,"v":22,"k":3,"t":23.34,"d":1.62},{"g":27,"v":22,"k":4,"t":23.39,"d":4.1},{"g":27,"v":22,"k":5,"t":23.48,"d":7.7},{"g":27,"v":22,"k":6,"t":23.61,"d":11.3},{"g":27,"v":22,"k":7,"t":23.72,"d":16.7},{"g":27,"v":22,"k":8,"t":23.83,"d":23.5},
{"g":28,"v":24,"k":0,"t":23.67,"d":-0.5},{"g":28,"v":24,"k":1,"t":23.89,"d":2.3},{"g":28,"v":24,"k":2,"t":23.95,"d":7.7},{"g":28,"v":24,"k":3,"t":24.0,"d":11.3},{"g":28,"v":24,"k":4,"t":24.1,"d":16.7},{"g":28,"v":24,"k":5,"t":24.22,"d":23.5},
{"g":29,"v":26,"k":0,"t":24.39,"d":-0.5},{"g":29,"v":26,"k":1,"t":24.41,"d":2.84},{"g":29,"v":26,"k":2,"t":24.45,"d":9.5},{"g":29,"v":26,"k":3,"t":24.5,"d":16.34},{"g":29,"v":26,"k":4,"t":24.67,"d":13.1},{"g":29,"v":26,"k":5,"t":24.79,"d":7.7},{"g":29,"v":26,"k":6,"t":24.84,"d":2.84},{"g":29,"v":26,"k":7,"t":24.89,"d":-0.5},
{"g":30,"v":24,"k":0,"t":26.08,"d":-0.5},{"g":30,"v":24,"k":1,"t":26.02,"d":5.9},{"g":30,"v":24,"k":2,"t":25.93,"d":11.3},{"g":30,"v":24,"k":3,"t":25.82,"d":16.7},{"g":30,"v":24,"k":4,"t":25.71,"d":20.3},{"g":30,"v":24,"k":5,"t":25.6,"d":23.5},
{"g":31,"v":22,"k":0,"t":26.67,"d":-0.5},{"g":31,"v":22,"k":1,"t":26.59,"d":7.7},{"g":31,"v":22,"k":2,"t":26.43,"d":16.7},{"g":31,"v":22,"k":3,"t":26.21,"d":23.5},
{"g":32,"v":22,"k":0,"t":27.42,"d":-0.5},{"g":32,"v":22,"k":1,"t":27.48,"d":6.44},{"g":32,"v":22,"k":2,"t":27.7,"d":9.5},{"g":32,"v":22,"k":3,"t":27.92,"d":11.66},{"g":32,"v":22,"k":4,"t":28.0,"d":12.5},
{"g":33,"v":20,"k":0,"t":26.76,"d":23.5},{"g":33,"v":20,"k":1,"t":26.81,"d":21.0},{"g":33,"v":20,"k":2,"t":26.9,"d":23.5}
],
"la":[{"t":6.1,"d":3.1,"s":"14"},{"t":10.12,"d":7.9,"s":"18"},{"t":14.44,"d":10.87,"s":"22"},{"t":25.23,"d":1.18,"s":"26"}],
"lb":[{"t":7.11,"d":4.24,"s":"14"},{"t":9.35,"d":8.78,"s":"18"},{"t":11.37,"d":11.1,"s":"22"},{"t":25.15,"d":1.39,"s":"26"}],
"lc":[{"t":9.56,"d":15.0,"s":"18"},{"t":12.1,"d":11.39,"s":"22"},{"t":16.12,"d":13.74,"s":"14"},{"t":25.05,"d":1.62,"s":"26"}]
},
"vconcat":[
{
 "title":{"text":"Confluencia: Isotermas"},
 "width":847,"height":453,
 "resolve":{"axis":{"x":"independent","y":"independent"}},
 "layer":[
  {"data":{"name":"a"},
   "mark":{"type":"line","clip":true,"strokeWidth":1},
   "encoding":{
    "x":{"field":"t","type":"quantitative","scale":{"domain":[0.1,27.65],"nice":false,"zero":false},
      "axis":{"orient":"bottom","title":null,"values":[1,2,3,4,5,6,7,8,9,10,11,12,13,14,15,16,17,18,19,20,21,22,23,24,25,26,27],"labels":false,"tickSize":-4,"grid":true,"gridDash":[1,2],"gridColor":"#b0b0b0","maxExtent":0,"minExtent":0}},
    "y":{"field":"d","type":"quantitative","scale":{"domain":[0,20],"reverse":true,"nice":false,"zero":false},
      "axis":{"orient":"left","title":null,"values":[1,2,3,4,5,6,7,8,9,10,11,12,13,14,15,16,17,18,19],"ticks":false,"labelFontSize":19,"labelPadding":8,"labelOverlap":false,"grid":true,"gridDash":[1,2],"gridColor":"#b0b0b0","minExtent":30,"maxExtent":30}},
    "detail":{"field":"g"},
    "order":{"field":"k"},
    "color":{"field":"v","type":"nominal","legend":null,"scale":{"domain":[12,14,16,18,20,22,24,26],"range":["#808000","#808000","#00ee00","#00ee00","#2060e0","#1010b0","#ff2020","#ff2020"]}},
    "strokeDash":{"field":"v","type":"nominal","legend":null,"scale":{"domain":[12,14,16,18,20,22,24,26],"range":[[2,2],[1,0],[2,2],[1,0],[2,2],[1,0],[2,2],[1,0]]}}
   }},
  {"data":{"name":"la"},
   "mark":{"type":"point","shape":"M-0.9,-1H0.9V1H-0.9Z","size":1764,"filled":true,"color":"white","opacity":1,"strokeWidth":0},
   "encoding":{
    "x":{"field":"t","type":"quantitative","axis":{"orient":"top","title":null,"values":[1,2,3,4,5,6,7,8,9,10,11,12,13,14,15,16,17,18,19,20,21,22,23,24,25,26,27],"labels":false,"tickSize":-4,"grid":false,"maxExtent":0,"minExtent":0}},
    "y":{"field":"d","type":"quantitative","axis":null}
   }},
  {"data":{"name":"la"},
   "mark":{"type":"text","fontSize":25,"font":"Liberation Sans","color":"black","baseline":"middle","align":"center"},
   "encoding":{
    "x":{"field":"t","type":"quantitative","axis":null},
    "y":{"field":"d","type":"quantitative","axis":null},
    "text":{"field":"s"}
   }}
 ]
},
{
 "title":{"text":"Garganta: isotermas"},
 "width":847,"height":448,
 "resolve":{"axis":{"x":"independent","y":"independent"}},
 "layer":[
  {"data":{"name":"b"},
   "mark":{"type":"line","clip":true,"strokeWidth":1.4},
   "encoding":{
    "x":{"field":"t","type":"quantitative","scale":{"domain":[0,26.69],"nice":false,"zero":false},
      "axis":{"orient":"bottom","title":null,"values":[3,6,9,12,15,18,21,24],"labels":false,"tickSize":-4,"grid":true,"gridDash":[2,4],"gridColor":"#a8a8a8","maxExtent":0,"minExtent":0}},
    "y":{"field":"d","type":"quantitative","scale":{"domain":[-0.5,23.5],"reverse":true,"nice":false,"zero":false},
      "axis":{"orient":"left","title":null,"values":[0,1,2,3,4,5,6,7,8,9,10,11,12,13,14,15,16,17,18,19,20,21,22,23],"ticks":false,"labelFontSize":19,"labelPadding":8,"labelOverlap":false,"grid":true,"gridDash":[2,4],"gridColor":"#a8a8a8","gridOpacity":{"condition":{"test":"datum.value % 5 == 4","value":1},"value":0},"minExtent":30,"maxExtent":30}},
    "detail":{"field":"g"},
    "order":{"field":"k"},
    "color":{"field":"v","type":"nominal","legend":null,"scale":{"domain":[12,14,16,18,20,22,24,26],"range":["#807800","#807800","#00ee00","#00ee00","#4040ff","#4040ff","#ff0000","#ff0000"]}},
    "strokeDash":{"field":"v","type":"nominal","legend":null,"scale":{"domain":[12,14,16,18,20,22,24,26],"range":[[5,3],[1,0],[5,3],[1,0],[5,3],[1,0],[5,3],[1,0]]}}
   }},
  {"data":{"name":"lb"},
   "mark":{"type":"point","shape":"M-1.05,-1H1.05V1H-1.05Z","size":1764,"filled":true,"color":"white","opacity":1,"strokeWidth":0},
   "encoding":{
    "x":{"field":"t","type":"quantitative","axis":{"orient":"top","title":null,"values":[3,6,9,12,15,18,21,24],"labels":false,"tickSize":-4,"grid":false,"maxExtent":0,"minExtent":0}},
    "y":{"field":"d","type":"quantitative","axis":null}
   }},
  {"data":{"name":"lb"},
   "mark":{"type":"text","fontSize":25,"font":"Liberation Sans","color":"black","baseline":"middle","align":"center"},
   "encoding":{
    "x":{"field":"t","type":"quantitative","axis":null},
    "y":{"field":"d","type":"quantitative","axis":null},
    "text":{"field":"s"}
   }}
 ]
},
{
 "title":{"text":"Dique: isotermas"},
 "width":847,"height":444,
 "resolve":{"axis":{"x":"independent","y":"independent"}},
 "layer":[
  {"data":{"name":"c"},
   "mark":{"type":"line","clip":true,"strokeWidth":1.4},
   "encoding":{
    "x":{"field":"t","type":"quantitative","scale":{"domain":[-0.1,27.92],"nice":false,"zero":false},
      "axis":{"orient":"bottom","title":null,"values":[1,3,5,6,7,9,10,12,14,15,16,18,21,22,24,25,27],
        "labelExpr":"datum.value==1?'feb-99':datum.value==3?'abr-99':datum.value==5?'jun-99':datum.value==7?'ago-99':datum.value==10?'nov-99':datum.value==12?'ene-00':datum.value==14?'mar-00':datum.value==16?'may-00':datum.value==18?'jul-00':datum.value==21?'oct-00':datum.value==22?'nov-00':datum.value==25?'feb-01':datum.value==27?'abr-01':''",
        "labelAngle":270,"labelFontSize":20,"labelPadding":9,"labelOverlap":false,"labelFlush":false,"labelBound":false,
        "tickSize":-4,"tickOpacity":{"condition":{"test":"datum.value % 3 == 0","value":1},"value":0},
        "grid":true,"gridDash":[2,4],"gridColor":"#a8a8a8","gridOpacity":{"condition":{"test":"datum.value % 3 == 0","value":1},"value":0}}},
    "y":{"field":"d","type":"quantitative","scale":{"domain":[-0.5,23.5],"reverse":true,"nice":false,"zero":false},
      "axis":{"orient":"left","title":null,"values":[0,1,2,3,4,5,6,7,8,9,10,11,12,13,14,15,16,17,18,19,20,21,22,23],"ticks":false,"labelFontSize":19,"labelPadding":8,"labelOverlap":false,"grid":true,"gridDash":[2,4],"gridColor":"#a8a8a8","gridOpacity":{"condition":{"test":"datum.value % 5 == 4","value":1},"value":0},"minExtent":30,"maxExtent":30}},
    "detail":{"field":"g"},
    "order":{"field":"k"},
    "color":{"field":"v","type":"nominal","legend":null,"scale":{"domain":[12,14,16,18,20,22,24,26],"range":["#807800","#807800","#00ee00","#00ee00","#4040ff","#4040ff","#ff0000","#ff0000"]}},
    "strokeDash":{"field":"v","type":"nominal","legend":null,"scale":{"domain":[12,14,16,18,20,22,24,26],"range":[[5,3],[1,0],[5,3],[1,0],[5,3],[1,0],[5,3],[1,0]]}}
   }},
  {"data":{"name":"lc"},
   "mark":{"type":"point","shape":"M-1.05,-1H1.05V1H-1.05Z","size":1764,"filled":true,"color":"white","opacity":1,"strokeWidth":0},
   "encoding":{
    "x":{"field":"t","type":"quantitative","axis":{"orient":"top","title":null,"values":[3,6,9,12,15,18,21,24,27],"labels":false,"tickSize":-4,"grid":false,"maxExtent":0,"minExtent":0}},
    "y":{"field":"d","type":"quantitative","axis":null}
   }},
  {"data":{"name":"lc"},
   "mark":{"type":"text","fontSize":25,"font":"Liberation Sans","color":"black","baseline":"middle","align":"center"},
   "encoding":{
    "x":{"field":"t","type":"quantitative","axis":null},
    "y":{"field":"d","type":"quantitative","axis":null},
    "text":{"field":"s"}
   }}
 ]
}
]
}
